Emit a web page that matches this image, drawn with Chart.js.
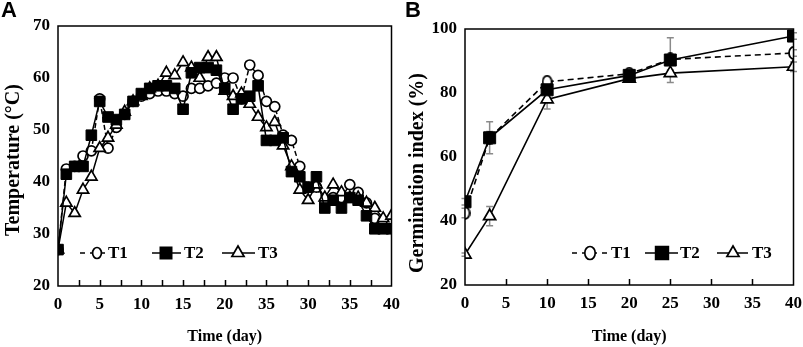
<!DOCTYPE html>
<html>
<head>
<meta charset="utf-8">
<script src="https://cdn.jsdelivr.net/npm/chart.js@4.4.0/dist/chart.umd.min.js"></script>
<style>
  html, body { margin: 0; padding: 0; background: #fff; }
  #wrap { position: relative; width: 803px; height: 347px; overflow: hidden; }
  #chartA { position: absolute; left: 0; top: 0; }
  #chartB { position: absolute; left: 400px; top: 0; }
  .panel { position: absolute; font: bold 22px "Liberation Sans", Arial, sans-serif; color: #000; }
</style>
</head>
<body>
<div id="wrap">
  <canvas id="chartA" width="400" height="347"></canvas>
  <canvas id="chartB" width="403" height="347"></canvas>
  <div class="panel" style="left:1px;top:-3px">A</div>
  <div class="panel" style="left:405px;top:-3px">B</div>
</div>
<script>
// Panel A: composting temperature, daily readings
const DAYS_A = [0, 1, 2, 3, 4, 5, 6, 7, 8, 9, 10, 11, 12, 13, 14, 15, 16, 17, 18, 19, 20,
  21, 22, 23, 24, 25, 26, 27, 28, 29, 30, 31, 32, 33, 34, 35, 36, 37, 38, 39, 40];
const T1_TEMP = [27, 42.5, 43, 45, 46, 56, 46.5, 50.5, 53, 55.5, 56.5, 57, 57.5, 57.5, 57, 56.5, 58, 58, 58.5, 59, 60,
  60, 56, 62.5, 60.5, 55.5, 54.5, 49, 48, 43, 39, 39, 36, 37, 37, 39.5, 38, 36, 33, 32.5, 32];
const T2_TEMP = [27, 41.5, 43, 43, 49, 55.5, 52.5, 52, 53, 55.5, 57, 58, 58.5, 58.5, 58, 54, 61, 62, 62, 61.5, 58,
  54, 56, 56.5, 58.5, 48, 48, 48.5, 42, 41, 39, 41, 35, 36.5, 35, 37, 36.5, 33.5, 31, 31, 31];
const T3_TEMP = [27, 36, 34, 38.5, 41, 46.5, 48.5, 51, 53.5, 55.5, 56.5, 58, 58.5, 61, 60.5, 63, 62, 60, 64, 64, 57.5,
  56.5, 57, 55, 52.5, 50.5, 51.5, 47, 43, 38.5, 36.5, 39.5, 37, 39.5, 38, 37, 37, 36, 35, 33, 33.5];
const X_TICK_LABELS_A = ["0", "5", "10", "15", "20", "35", "30", "35", "40"];

// Panel B: germination index
const DAYS_B = [0, 3, 10, 20, 25, 40];
const T1_GI = [42.5, 66, 83.5, 86, 90.5, 92.5];
const T2_GI = [46, 66, 81, 85.5, 90.3, 97.8];
const T3_GI = [29.5, 41.5, 78, 84.5, 86.2, 88.2];
const T1_ERR = [1.5, 2, 1, 1, 1, 1];
const T2_ERR = [1, 5, 1, 1, 7, 1];
const T3_ERR = [0.5, 3, 3, 1, 1, 1.5];

const SERIF = '"Liberation Serif", "Times New Roman", serif';

function xy(days, values) {
  return values.map((v, i) => ({ x: days[i], y: v }));
}

function ovalMarker(w, h) {
  const c = document.createElement("canvas");
  c.width = w; c.height = h;
  const ctx = c.getContext("2d");
  ctx.beginPath();
  ctx.ellipse(w / 2, h / 2, w / 2 - 1, h / 2 - 1, 0, 0, Math.PI * 2);
  ctx.fillStyle = "#fff";
  ctx.fill();
  ctx.lineWidth = 1.8;
  ctx.strokeStyle = "#000";
  ctx.stroke();
  return c;
}

function drawMarker(ctx, style, x, y, r) {
  ctx.save();
  ctx.lineWidth = 1.7;
  ctx.strokeStyle = "#000";
  ctx.beginPath();
  if (style === "rect") {
    const s = r * Math.SQRT1_2;
    ctx.rect(x - s, y - s, 2 * s, 2 * s);
    ctx.fillStyle = "#000";
  } else if (style === "triangle") {
    ctx.moveTo(x, y - r);
    ctx.lineTo(x + r * 0.866, y + r * 0.5);
    ctx.lineTo(x - r * 0.866, y + r * 0.5);
    ctx.closePath();
    ctx.fillStyle = "#fff";
  } else {
    ctx.ellipse(x, y, r * 0.8, r, 0, 0, Math.PI * 2);
    ctx.fillStyle = "#fff";
  }
  ctx.fill();
  ctx.stroke();
  ctx.restore();
}

// box, inward ticks, y title, legend and error bars
const decor = {
  id: "decor",
  beforeDatasetsDraw(chart, args, opts) {
    if (!opts.errors) return;
    const { ctx, scales } = chart;
    ctx.save();
    ctx.strokeStyle = "#8a8a8a";
    ctx.lineWidth = 1.5;
    chart.data.datasets.forEach((ds, i) => {
      const err = opts.errors[i];
      if (!err) return;
      ds.data.forEach((p, j) => {
        const x = scales.x.getPixelForValue(p.x);
        const y1 = scales.y.getPixelForValue(p.y + err[j]);
        const y2 = scales.y.getPixelForValue(p.y - err[j]);
        ctx.beginPath();
        ctx.moveTo(x, y1); ctx.lineTo(x, y2);
        ctx.moveTo(x - 3.5, y1); ctx.lineTo(x + 3.5, y1);
        ctx.moveTo(x - 3.5, y2); ctx.lineTo(x + 3.5, y2);
        ctx.stroke();
      });
    });
    ctx.restore();
  },
  afterDraw(chart, args, opts) {
    const { ctx, chartArea: a, scales } = chart;
    ctx.save();
    ctx.strokeStyle = "#000";
    ctx.lineWidth = 1.5;
    ctx.strokeRect(a.left, a.top, a.right - a.left, a.bottom - a.top);
    ctx.beginPath();
    scales.x.ticks.forEach((t) => {
      if (t.value <= scales.x.min || t.value >= scales.x.max) return;
      const x = Math.round(scales.x.getPixelForValue(t.value)) + 0.5;
      ctx.moveTo(x, a.bottom);
      ctx.lineTo(x, a.bottom - 6);
    });
    ctx.stroke();

    // rotated y-axis title
    const yt = opts.yTitle;
    ctx.save();
    ctx.translate(yt.x, yt.y);
    ctx.rotate(-Math.PI / 2);
    ctx.font = "bold 20px " + SERIF;
    ctx.fillStyle = "#000";
    ctx.textAlign = "center";
    ctx.textBaseline = "middle";
    ctx.fillText(yt.text, 0, 0);
    ctx.restore();

    const lg = opts.legend;
    ctx.font = "bold 17px " + SERIF;
    ctx.fillStyle = "#000";
    ctx.textBaseline = "middle";
    lg.items.forEach((it) => {
      ctx.save();
      ctx.lineWidth = 1.5;
      ctx.setLineDash(it.dash || []);
      ctx.beginPath();
      ctx.moveTo(it.x0, lg.y);
      ctx.lineTo(it.x1, lg.y);
      ctx.stroke();
      ctx.restore();
      drawMarker(ctx, it.style, it.mx, lg.y, it.r);
      ctx.fillText(it.text, it.tx, lg.y + 1);
    });
    ctx.restore();
  },
};

function tickFont() {
  return { family: SERIF, weight: "bold", size: 17 };
}

function makeScales(opt) {
  return {
    x: {
      type: "linear",
      min: 0,
      max: 40,
      grid: { display: false, drawTicks: false },
      border: { display: false },
      ticks: {
        stepSize: opt.xStep,
        autoSkip: false,
        maxRotation: 0,
        color: "#000",
        padding: 8,
        font: tickFont(),
        callback: opt.xCallback,
      },
      title: {
        display: true,
        text: "Time (day)",
        color: "#000",
        font: { family: SERIF, weight: "bold", size: 16 },
        padding: { top: 2, bottom: 1 },
      },
      afterFit: (s) => { s.height = opt.xHeight; s.paddingLeft = 0; s.paddingRight = 0; },
    },
    y: {
      min: opt.yMin,
      max: opt.yMax,
      grid: { display: false, drawTicks: false },
      border: { display: false },
      ticks: { stepSize: opt.yStep, color: "#000", padding: 8, font: tickFont() },
      afterFit: (s) => { s.width = opt.yWidth; s.paddingTop = 0; s.paddingBottom = 0; },
    },
  };
}

new Chart(document.getElementById("chartA"), {
  type: "line",
  data: {
    datasets: [
      {
        label: "T1", data: xy(DAYS_A, T1_TEMP), order: 2,
        borderColor: "#000", borderWidth: 1.5, borderDash: [5, 3],
        pointStyle: "circle", pointRadius: 5, pointBorderWidth: 1.7,
        pointBackgroundColor: "#fff", pointBorderColor: "#000",
      },
      {
        label: "T2", data: xy(DAYS_A, T2_TEMP), order: 0,
        borderColor: "#000", borderWidth: 1.5,
        pointStyle: "rect", pointRadius: 7.5, pointBorderWidth: 1,
        pointBackgroundColor: "#000", pointBorderColor: "#000",
      },
      {
        label: "T3", data: xy(DAYS_A, T3_TEMP), order: 1,
        borderColor: "#000", borderWidth: 1.5,
        pointStyle: "triangle", pointRadius: 6.5, pointBorderWidth: 1.7,
        pointBackgroundColor: "#fff", pointBorderColor: "#000",
      },
    ],
  },
  options: {
    responsive: false,
    animation: false,
    layout: { padding: { left: 0, right: 7, top: 26, bottom: 0 } },
    plugins: {
      legend: { display: false },
      tooltip: { enabled: false },
      decor: {
        yTitle: { text: "Temperature (°C)", x: 14, y: 160 },
        legend: {
          y: 253,
          items: [
            { x0: 80, x1: 107, dash: [5, 5], style: "circle", mx: 97, r: 5.5, text: "T1", tx: 108 },
            { x0: 152, x1: 181, style: "rect", mx: 166, r: 8, text: "T2", tx: 184 },
            { x0: 222, x1: 255, style: "triangle", mx: 238, r: 7, text: "T3", tx: 258 },
          ],
        },
      },
    },
    scales: makeScales({
      xStep: 2.5,
      xCallback: (v) => (v % 5 === 0 ? X_TICK_LABELS_A[Math.round(v / 5)] : ""),
      xHeight: 61,
      yMin: 20, yMax: 70, yStep: 10,
      yWidth: 58,
    }),
  },
  plugins: [decor],
});

new Chart(document.getElementById("chartB"), {
  type: "line",
  data: {
    datasets: [
      {
        label: "T1", data: xy(DAYS_B, T1_GI), order: 1,
        borderColor: "#000", borderWidth: 1.6, borderDash: [6, 4],
        pointStyle: ovalMarker(11, 14), pointRadius: 6,
      },
      {
        label: "T2", data: xy(DAYS_B, T2_GI), order: 0,
        borderColor: "#000", borderWidth: 1.6,
        pointStyle: "rect", pointRadius: 8.5, pointBorderWidth: 1,
        pointBackgroundColor: "#000", pointBorderColor: "#000",
      },
      {
        label: "T3", data: xy(DAYS_B, T3_GI), order: 2,
        borderColor: "#000", borderWidth: 1.6,
        pointStyle: "triangle", pointRadius: 7, pointBorderWidth: 1.7,
        pointBackgroundColor: "#fff", pointBorderColor: "#000",
      },
    ],
  },
  options: {
    responsive: false,
    animation: false,
    layout: { padding: { left: 0, right: 5, top: 29, bottom: 0 } },
    plugins: {
      legend: { display: false },
      tooltip: { enabled: false },
      decor: {
        errors: [T1_ERR, T2_ERR, T3_ERR],
        yTitle: { text: "Germination index (%)", x: 18, y: 173 },
        legend: {
          y: 253,
          items: [
            { x0: 172, x1: 207, dash: [5, 5], style: "circle", mx: 190, r: 6.5, text: "T1", tx: 211 },
            { x0: 245, x1: 278, style: "rect", mx: 262, r: 9, text: "T2", tx: 280 },
            { x0: 317, x1: 348, style: "triangle", mx: 333, r: 7, text: "T3", tx: 352 },
          ],
        },
      },
    },
    scales: makeScales({
      xStep: 5,
      xCallback: (v) => String(v),
      xHeight: 62,
      yMin: 20, yMax: 100, yStep: 20,
      yWidth: 65,
    }),
  },
  plugins: [decor],
});
</script>
</body>
</html>
